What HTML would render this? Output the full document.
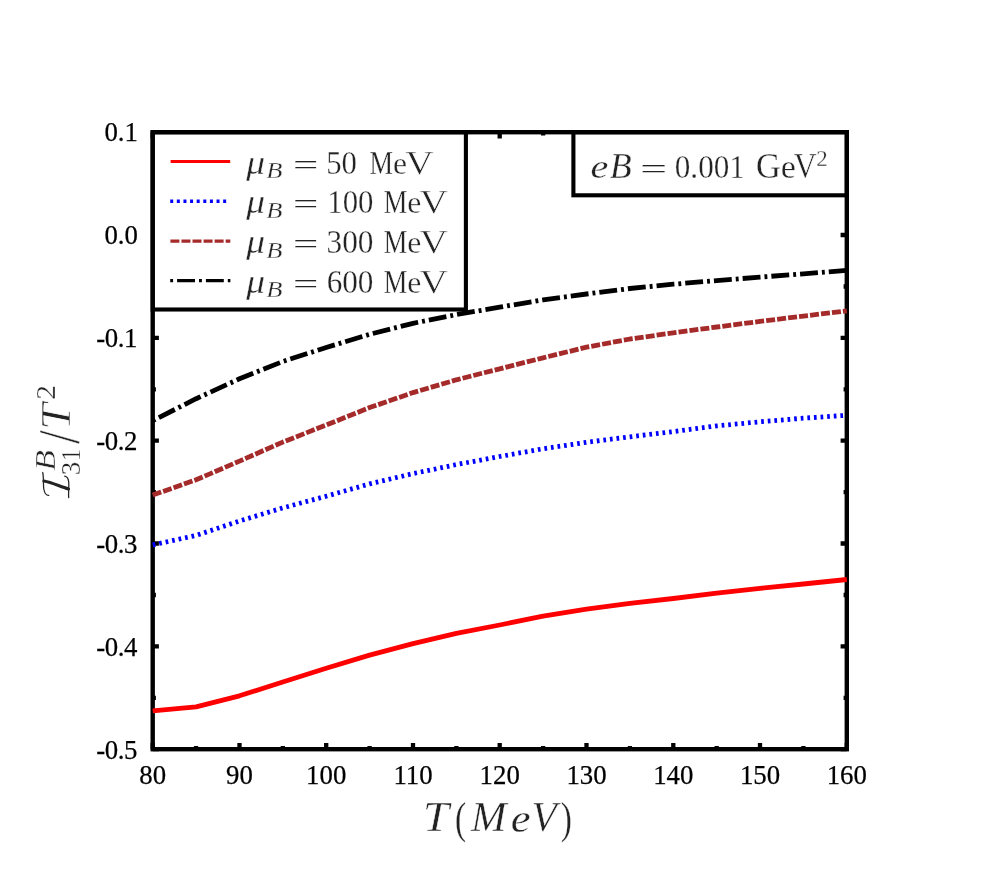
<!DOCTYPE html>
<html><head><meta charset="utf-8"><title>chart</title>
<style>html,body{margin:0;padding:0;background:#fff;}svg{display:block;font-family:"Liberation Serif",serif;will-change:transform;}</style>
</head><body>
<svg width="997" height="886" viewBox="0 0 997 886">
<rect width="997" height="886" fill="#fff"/>
<g stroke="#000" stroke-width="4.3" stroke-linecap="butt">
<path d="M152.7 749.2 v-6.2 M152.7 132.2 v6.2"/>
<path d="M196.1 749.2 v-3.2 M196.1 132.2 v3.2"/>
<path d="M239.5 749.2 v-6.2 M239.5 132.2 v6.2"/>
<path d="M282.8 749.2 v-3.2 M282.8 132.2 v3.2"/>
<path d="M326.2 749.2 v-6.2 M326.2 132.2 v6.2"/>
<path d="M369.6 749.2 v-3.2 M369.6 132.2 v3.2"/>
<path d="M413.0 749.2 v-6.2 M413.0 132.2 v6.2"/>
<path d="M456.4 749.2 v-3.2 M456.4 132.2 v3.2"/>
<path d="M499.7 749.2 v-6.2 M499.7 132.2 v6.2"/>
<path d="M543.1 749.2 v-3.2 M543.1 132.2 v3.2"/>
<path d="M586.5 749.2 v-6.2 M586.5 132.2 v6.2"/>
<path d="M629.9 749.2 v-3.2 M629.9 132.2 v3.2"/>
<path d="M673.3 749.2 v-6.2 M673.3 132.2 v6.2"/>
<path d="M716.7 749.2 v-3.2 M716.7 132.2 v3.2"/>
<path d="M760.0 749.2 v-6.2 M760.0 132.2 v6.2"/>
<path d="M803.4 749.2 v-3.2 M803.4 132.2 v3.2"/>
<path d="M846.8 749.2 v-6.2 M846.8 132.2 v6.2"/>
<path d="M152.7 132.2 h6.2 M846.8 132.2 h-6.2"/>
<path d="M152.7 183.6 h3.2 M846.8 183.6 h-3.2"/>
<path d="M152.7 235.0 h6.2 M846.8 235.0 h-6.2"/>
<path d="M152.7 286.5 h3.2 M846.8 286.5 h-3.2"/>
<path d="M152.7 337.9 h6.2 M846.8 337.9 h-6.2"/>
<path d="M152.7 389.3 h3.2 M846.8 389.3 h-3.2"/>
<path d="M152.7 440.7 h6.2 M846.8 440.7 h-6.2"/>
<path d="M152.7 492.1 h3.2 M846.8 492.1 h-3.2"/>
<path d="M152.7 543.5 h6.2 M846.8 543.5 h-6.2"/>
<path d="M152.7 595.0 h3.2 M846.8 595.0 h-3.2"/>
<path d="M152.7 646.4 h6.2 M846.8 646.4 h-6.2"/>
<path d="M152.7 697.8 h3.2 M846.8 697.8 h-3.2"/>
<path d="M152.7 749.2 h6.2 M846.8 749.2 h-6.2"/>
</g>
<rect x="152.7" y="132.2" width="313.2" height="177.3" fill="#fff" stroke="#000" stroke-width="4.1"/>
<rect x="573.4" y="132.2" width="273.4" height="63.1" fill="#fff" stroke="#000" stroke-width="4.1"/>
<rect x="152.7" y="132.2" width="694.1" height="617.0" fill="none" stroke="#000" stroke-width="4.4" stroke-linejoin="miter"/>
<g fill="none" stroke-width="4.8" stroke-linejoin="round">
<path d="M152.7 710.8 L196.1 706.9 L239.5 695.8 L282.8 682.0 L326.2 668.3 L369.6 655.1 L413.0 643.6 L456.4 633.3 L499.7 625.0 L543.1 616.2 L586.5 609.2 L629.9 603.3 L673.3 598.5 L716.7 593.2 L760.0 588.4 L803.4 584.0 L846.8 579.5" stroke="#ff0000"/>
<path d="M152.7 544.9 L196.1 535.4 L239.5 521.0 L282.8 507.9 L326.2 496.2 L369.6 483.9 L413.0 473.6 L456.4 464.6 L499.7 456.5 L543.1 448.8 L586.5 442.3 L629.9 436.8 L673.3 431.6 L716.7 425.9 L760.0 421.8 L803.4 418.2 L846.8 415.3" stroke="#0000ff" stroke-dasharray="2.7 3.92"/>
<path d="M152.7 495.1 L196.1 479.8 L239.5 461.1 L282.8 442.1 L326.2 425.0 L369.6 407.6 L413.0 392.6 L456.4 379.8 L499.7 368.8 L543.1 357.8 L586.5 347.2 L629.9 339.0 L673.3 332.9 L716.7 327.0 L760.0 321.4 L803.4 316.1 L846.8 310.8" stroke="#a52a2a" stroke-dasharray="9 2.05"/>
<path d="M152.7 420.7 L196.1 398.7 L239.5 378.8 L282.8 361.5 L326.2 347.5 L369.6 334.3 L413.0 323.3 L456.4 314.6 L499.7 307.2 L543.1 299.9 L586.5 294.0 L629.9 288.5 L673.3 284.2 L716.7 280.6 L760.0 277.1 L803.4 273.8 L846.8 270.4" stroke="#000" stroke-dasharray="2.9 4 17.9 4"/>
</g>
<g fill="none" stroke-width="3.4">
<path d="M170.6 161.6 H230.2" stroke="#ff0000" stroke-width="3.0"/>
<path d="M170.2 201.3 H226.4" stroke="#0000ff" stroke-dasharray="3.0 3.62"/>
<path d="M170.4 241.1 H230.3" stroke="#a52a2a" stroke-dasharray="9 2.05"/>
<path d="M170.2 280.6 H230.4" stroke="#000" stroke-dasharray="2.9 4 17.9 4"/>
</g>
<g font-size="26.8" fill="#000" stroke="#000" stroke-width="0.25">
<text x="152.7" y="784.4" text-anchor="middle">80</text>
<text x="239.5" y="784.4" text-anchor="middle">90</text>
<text x="326.2" y="784.4" text-anchor="middle">100</text>
<text x="413.0" y="784.4" text-anchor="middle">110</text>
<text x="499.7" y="784.4" text-anchor="middle">120</text>
<text x="586.5" y="784.4" text-anchor="middle">130</text>
<text x="673.3" y="784.4" text-anchor="middle">140</text>
<text x="760.0" y="784.4" text-anchor="middle">150</text>
<text x="846.8" y="784.4" text-anchor="middle">160</text>
<text x="137.9" y="141.2" text-anchor="end">0.1</text>
<text x="137.9" y="244.1" text-anchor="end">0.0</text>
<text x="137.5" y="347.1" text-anchor="end" textLength="41.3" lengthAdjust="spacing">-0.1</text>
<text x="137.5" y="450.1" text-anchor="end" textLength="41.3" lengthAdjust="spacing">-0.2</text>
<text x="137.5" y="553.0" text-anchor="end" textLength="41.3" lengthAdjust="spacing">-0.3</text>
<text x="137.5" y="656.0" text-anchor="end" textLength="41.3" lengthAdjust="spacing">-0.4</text>
<text x="137.5" y="758.9" text-anchor="end" textLength="41.3" lengthAdjust="spacing">-0.5</text>
</g>
<text transform="translate(246.24 173.50) scale(1.1167 1)" font-size="33.55" font-style="italic" fill="#232323" stroke="#fff" stroke-width="0.30">μ</text>
<text transform="translate(266.25 178.00) scale(1.1755 1)" font-size="22.60" font-style="italic" fill="#232323" stroke="#fff" stroke-width="0.30">B</text>
<text transform="translate(292.96 173.50) scale(1.6421 1)" font-size="27.35" font-style="normal" fill="#232323" stroke="#fff" stroke-width="0.10">=</text>
<text transform="translate(326.21 173.50) scale(0.9027 1)" font-size="34.07" fill="#232323" stroke="#fff" stroke-width="0.30">50</text>
<text transform="translate(369.44 173.50) scale(0.7773 1)" font-size="34.06" font-style="normal" fill="#232323" stroke="#fff" stroke-width="0.30">M</text>
<text transform="translate(393.07 173.50) scale(1.0064 1)" font-size="31.41" font-style="normal" fill="#232323" stroke="#fff" stroke-width="0.30">e</text>
<text transform="translate(405.16 173.50) scale(1.1540 1)" font-size="34.06" font-style="normal" fill="#232323" stroke="#fff" stroke-width="0.55">V</text>
<text transform="translate(246.24 213.30) scale(1.1167 1)" font-size="33.55" font-style="italic" fill="#232323" stroke="#fff" stroke-width="0.30">μ</text>
<text transform="translate(266.25 217.80) scale(1.1755 1)" font-size="22.60" font-style="italic" fill="#232323" stroke="#fff" stroke-width="0.30">B</text>
<text transform="translate(292.96 213.30) scale(1.6421 1)" font-size="27.35" font-style="normal" fill="#232323" stroke="#fff" stroke-width="0.10">=</text>
<text transform="translate(327.29 213.30) scale(0.9035 1)" font-size="34.07" fill="#232323" stroke="#fff" stroke-width="0.30">100</text>
<text transform="translate(383.74 213.30) scale(0.7773 1)" font-size="34.06" font-style="normal" fill="#232323" stroke="#fff" stroke-width="0.30">M</text>
<text transform="translate(407.37 213.30) scale(1.0064 1)" font-size="31.41" font-style="normal" fill="#232323" stroke="#fff" stroke-width="0.30">e</text>
<text transform="translate(419.46 213.30) scale(1.1540 1)" font-size="34.06" font-style="normal" fill="#232323" stroke="#fff" stroke-width="0.55">V</text>
<text transform="translate(246.24 253.00) scale(1.1167 1)" font-size="33.55" font-style="italic" fill="#232323" stroke="#fff" stroke-width="0.30">μ</text>
<text transform="translate(266.25 257.50) scale(1.1755 1)" font-size="22.60" font-style="italic" fill="#232323" stroke="#fff" stroke-width="0.30">B</text>
<text transform="translate(292.96 253.00) scale(1.6421 1)" font-size="27.35" font-style="normal" fill="#232323" stroke="#fff" stroke-width="0.10">=</text>
<text transform="translate(326.50 253.00) scale(0.9194 1)" font-size="34.07" fill="#232323" stroke="#fff" stroke-width="0.30">300</text>
<text transform="translate(383.74 253.00) scale(0.7773 1)" font-size="34.06" font-style="normal" fill="#232323" stroke="#fff" stroke-width="0.30">M</text>
<text transform="translate(407.37 253.00) scale(1.0064 1)" font-size="31.41" font-style="normal" fill="#232323" stroke="#fff" stroke-width="0.30">e</text>
<text transform="translate(419.46 253.00) scale(1.1540 1)" font-size="34.06" font-style="normal" fill="#232323" stroke="#fff" stroke-width="0.55">V</text>
<text transform="translate(246.24 292.70) scale(1.1167 1)" font-size="33.55" font-style="italic" fill="#232323" stroke="#fff" stroke-width="0.30">μ</text>
<text transform="translate(266.25 297.20) scale(1.1755 1)" font-size="22.60" font-style="italic" fill="#232323" stroke="#fff" stroke-width="0.30">B</text>
<text transform="translate(292.96 292.70) scale(1.6421 1)" font-size="27.35" font-style="normal" fill="#232323" stroke="#fff" stroke-width="0.10">=</text>
<text transform="translate(326.66 292.70) scale(0.9163 1)" font-size="34.07" fill="#232323" stroke="#fff" stroke-width="0.30">600</text>
<text transform="translate(383.74 292.70) scale(0.7773 1)" font-size="34.06" font-style="normal" fill="#232323" stroke="#fff" stroke-width="0.30">M</text>
<text transform="translate(407.37 292.70) scale(1.0064 1)" font-size="31.41" font-style="normal" fill="#232323" stroke="#fff" stroke-width="0.30">e</text>
<text transform="translate(419.46 292.70) scale(1.1540 1)" font-size="34.06" font-style="normal" fill="#232323" stroke="#fff" stroke-width="0.55">V</text>
<text transform="translate(590.46 177.60) scale(1.2140 1)" font-size="33.11" font-style="italic" fill="#232323" stroke="#fff" stroke-width="0.30">e</text>
<text transform="translate(609.67 177.60) scale(1.0261 1)" font-size="34.97" font-style="italic" fill="#232323" stroke="#fff" stroke-width="0.30">B</text>
<text transform="translate(640.23 177.60) scale(1.7226 1)" font-size="27.57" font-style="normal" fill="#232323" stroke="#fff" stroke-width="0.10">=</text>
<text transform="translate(674.81 177.60) scale(0.9178 1)" font-size="33.93" fill="#232323" stroke="#fff" stroke-width="0.30">0.001</text>
<text transform="translate(755.90 177.60) scale(0.9707 1)" font-size="35.19" font-style="normal" fill="#232323" stroke="#fff" stroke-width="0.30">G</text>
<text transform="translate(780.67 177.60) scale(1.0283 1)" font-size="33.11" font-style="normal" fill="#232323" stroke="#fff" stroke-width="0.30">e</text>
<text transform="translate(793.84 177.60) scale(0.9072 1)" font-size="34.97" font-style="normal" fill="#232323" stroke="#fff" stroke-width="0.50">V</text>
<text transform="translate(816.19 166.30) scale(0.9678 1)" font-size="23.71" font-style="normal" fill="#232323" stroke="#fff" stroke-width="0.30">2</text>
<text transform="translate(422.81 831.30) scale(1.1384 1)" font-size="41.54" font-style="italic" fill="#232323" stroke="#fff" stroke-width="0.50">T</text>
<text transform="translate(454.93 832.60) scale(0.7399 1)" font-size="45.25" font-style="normal" fill="#232323" stroke="#fff" stroke-width="0.30">(</text>
<text transform="translate(471.00 831.30) scale(1.0244 1)" font-size="41.54" font-style="italic" fill="#232323" stroke="#fff" stroke-width="0.45">M</text>
<text transform="translate(510.63 831.60) scale(1.1407 1)" font-size="39.05" font-style="italic" fill="#232323" stroke="#fff" stroke-width="0.30">e</text>
<text transform="translate(531.54 831.30) scale(0.9963 1)" font-size="41.54" font-style="italic" fill="#232323" stroke="#fff" stroke-width="0.45">V</text>
<text transform="translate(560.82 832.60) scale(0.7399 1)" font-size="45.25" font-style="normal" fill="#232323" stroke="#fff" stroke-width="0.30">)</text>
<g transform="translate(69.5 0) rotate(-90)">
<text transform="translate(-470.92 -14.20) scale(1.1649 1)" font-size="29.48" font-style="italic" fill="#232323" stroke="#fff" stroke-width="0.50">B</text>
<text transform="translate(-475.29 10.60) scale(0.9565 1)" font-size="28.09" font-style="normal" fill="#232323" stroke="#fff" stroke-width="0.30">3</text>
<text transform="translate(-461.17 10.60) scale(0.8771 1)" font-size="28.18" font-style="normal" fill="#232323" stroke="#fff" stroke-width="0.30">1</text>
<text transform="translate(-444.00 9.50) scale(0.8329 1)" font-size="59.64" font-style="normal" fill="#232323" stroke="#fff" stroke-width="0.55">/</text>
<text transform="translate(-429.93 0.00) scale(1.1558 1)" font-size="41.39" font-style="italic" fill="#232323" stroke="#fff" stroke-width="0.70">T</text>
<text transform="translate(-399.69 -15.00) scale(1.0535 1)" font-size="27.94" font-style="normal" fill="#232323" stroke="#fff" stroke-width="0.30">2</text>
</g>
<g fill="none" stroke="#232323" stroke-linecap="round">
<path d="M43.9 481.0 C52 482.5 60 486.5 68.5 489.0" stroke-width="3.1"/>
<path d="M42.7 472.5 C43.9 477 43.0 485 43.9 489.5 C44.6 493 46.6 495.6 48.8 495.4" stroke-width="1.25"/>
<path d="M64.7 476.2 C66.8 476.6 68.4 478.8 68.7 482 C69.2 487 68.2 493 68.7 497.6" stroke-width="1.25"/>
</g>
</svg>
</body></html>
